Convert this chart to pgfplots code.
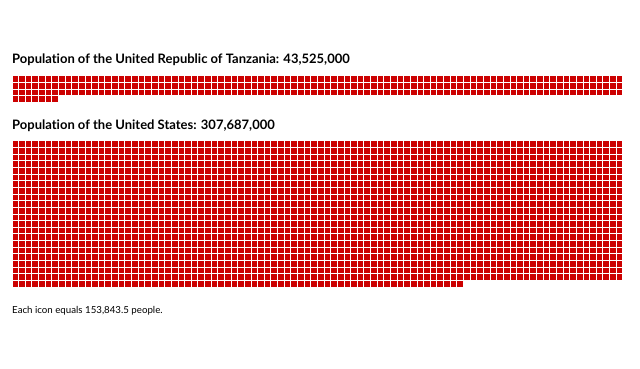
\documentclass[border=0pt]{standalone}
\usepackage{pgfplots}
\pgfplotsset{compat=1.18}
\usepackage{fontspec}
\setmainfont{Lato}[Ligatures=NoCommon]
\definecolor{wred}{HTML}{CC0000}
\pgfplotsset{waffle/.style={
  scale only axis, xmin=0, xmax=92, ymin=0, y dir=reverse,
  axis line style={draw=none}, tick style={draw=none},
  xticklabels={}, yticklabels={},
  xtick={0,...,92},
  grid=major, major grid style={white, line width=1bp},
  axis on top, xbar, bar width=1, bar shift=0pt,
  anchor=north west,
}}
\begin{document}
\begin{tikzpicture}
\path[use as bounding box] (0,0) rectangle (640bp,369bp);
\node[anchor=base west, inner sep=0pt, font=\bfseries\fontsize{13bp}{15bp}\selectfont] at (12bp,305bp) {Population of the United Republic of Tanzania: 43,525,000};
\node[anchor=base west, inner sep=0pt, font=\bfseries\fontsize{13bp}{15bp}\selectfont] at (12bp,239bp) {Population of the United States: 307,687,000};
\node[anchor=base west, inner sep=0pt, font=\fontsize{9.7bp}{11bp}\selectfont] at (12bp,55bp) {Each icon equals 153,843.5 people.};
\begin{axis}[waffle, at={(12bp,293bp)}, width=610.9bp, height=26.56bp, ymax=4, ytick={0,...,4}]
\addplot[fill=wred, draw=none] coordinates {(92,0.5) (92,1.5) (92,2.5) (7,3.5)};
\end{axis}
\begin{axis}[waffle, at={(12bp,228bp)}, width=610.9bp, height=146.08bp, ymax=22, ytick={0,...,22}]
\addplot[fill=wred, draw=none] coordinates {
(92,0.5) (92,1.5) (92,2.5) (92,3.5) (92,4.5) (92,5.5) (92,6.5) (92,7.5)
(92,8.5) (92,9.5) (92,10.5) (92,11.5) (92,12.5) (92,13.5) (92,14.5) (92,15.5)
(92,16.5) (92,17.5) (92,18.5) (92,19.5) (92,20.5) (68,21.5)};
\end{axis}
\end{tikzpicture}
\end{document}
